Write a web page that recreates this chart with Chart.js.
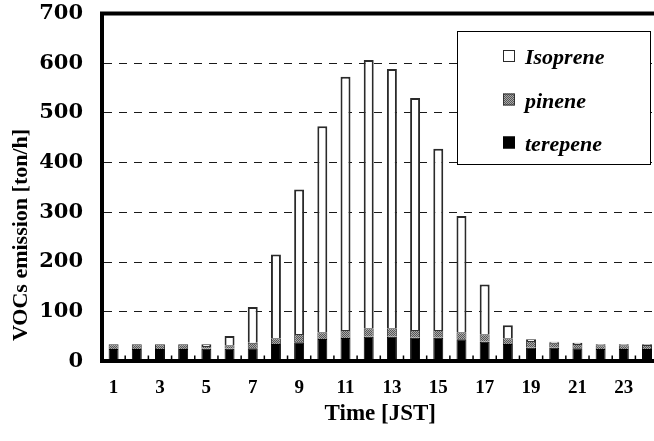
<!DOCTYPE html>
<html>
<head>
<meta charset="utf-8">
<script src="https://cdn.jsdelivr.net/npm/chart.js@4.4.1/dist/chart.umd.min.js"></script>
<style>
    html, body { margin: 0; padding: 0; background: #ffffff; overflow: hidden; }
    #wrap { width: 654px; height: 441px; overflow: hidden; }
    canvas { display: block; }
</style>
</head>
<body>
<div id="wrap"><canvas id="vocChart" width="662" height="441"></canvas></div>
<script>
// Hourly VOC emission by species (ton/h)
const hours = ['1', '2', '3', '4', '5', '6', '7', '8', '9', '10', '11', '12',
    '13', '14', '15', '16', '17', '18', '19', '20', '21', '22', '23', '24'];
const terepene = [25, 25, 25, 25, 25.5, 25.5, 26.5, 35, 38.5, 45, 47, 49.5,
    49.5, 47.5, 47.5, 44.5, 39.5, 35, 27.5, 27.5, 26.5, 25, 25, 25];
const pinene = [9.5, 9.5, 9.5, 9.5, 5.5, 7, 11, 11.5, 16.5, 13.5, 16, 17,
    17, 15.5, 15.5, 14, 15, 11.5, 13.5, 10, 8.5, 7.5, 7.5, 8];
const isoprene = [0, 0, 0, 0, 3.5, 18.5, 72, 168.5, 291, 415, 510, 540,
    522, 467, 365, 234, 100.5, 26.5, 3.5, 2, 2.5, 2, 2, 1.5];
const yTicks = [0, 100, 200, 300, 400, 500, 600, 700];

const serif = "'Liberation Serif', 'Times New Roman', serif";

// Grey dotted fill like the old spreadsheet pattern
function makePattern() {
    const c = document.createElement('canvas');
    c.width = 2; c.height = 2;
    const g = c.getContext('2d');
    g.fillStyle = '#aaaaaa';
    g.fillRect(0, 0, 2, 2);
    g.fillStyle = '#555555';
    g.fillRect(0, 0, 1, 1);
    g.fillRect(1, 1, 1, 1);
    return g.createPattern(c, 'repeat');
}
const pinenePattern = makePattern();

// Frame, inner tick marks, y title and the boxed legend
const framePlugin = {
    id: 'frame',
    afterDraw(chart) {
        const { ctx, chartArea } = chart;
        const x = chart.scales.x;
        ctx.save();

        // top border
        ctx.strokeStyle = '#000';
        ctx.lineWidth = 4;
        ctx.beginPath();
        ctx.moveTo(chartArea.left - 2, chartArea.top);
        ctx.lineTo(chartArea.right, chartArea.top);
        ctx.stroke();

        // small ticks between categories
        const step = (x.right - x.left) / hours.length;
        ctx.lineWidth = 1.5;
        ctx.beginPath();
        for (let i = 1; i < hours.length; i++) {
            const px = x.left + i * step;
            ctx.moveTo(px, chartArea.bottom);
            ctx.lineTo(px, chartArea.bottom - 6);
        }
        ctx.stroke();

        // y axis title
        ctx.fillStyle = '#000';
        ctx.font = 'bold 22px ' + serif;
        ctx.textAlign = 'center';
        ctx.textBaseline = 'middle';
        ctx.translate(21, 235);
        ctx.rotate(-Math.PI / 2);
        ctx.fillText('VOCs emission [ton/h]', 0, 0);
        ctx.setTransform(1, 0, 0, 1, 0, 0);

        // legend box
        ctx.fillStyle = '#fff';
        ctx.fillRect(457.5, 31.5, 193, 133);
        ctx.lineWidth = 1;
        ctx.strokeStyle = '#000';
        ctx.strokeRect(457.5, 31.5, 193, 133);

        const items = chart.data.datasets.slice().reverse();
        const baselines = [64, 107.5, 150.5];
        ctx.font = 'italic bold 22px ' + serif;
        ctx.textAlign = 'left';
        ctx.textBaseline = 'alphabetic';
        items.forEach((ds, i) => {
            const by = baselines[i];
            ctx.fillStyle = ds.backgroundColor;
            ctx.fillRect(503, by - 14, 12, 12);
            ctx.strokeStyle = ds.borderColor;
            ctx.lineWidth = 1;
            ctx.strokeRect(503.5, by - 13.5, 11, 11);
            ctx.fillStyle = '#000';
            ctx.fillText(ds.label, 525, by);
        });
        ctx.restore();
    }
};

function initializeChart() {
    const ctx = document.getElementById('vocChart');

    new Chart(ctx, {
        type: 'bar',
        data: {
            labels: hours,
            datasets: [
                {
                    label: 'terepene',
                    data: terepene,
                    backgroundColor: '#000000',
                    borderColor: '#000000',
                    borderWidth: 1
                },
                {
                    label: 'pinene',
                    data: pinene,
                    backgroundColor: pinenePattern,
                    borderColor: '#333333',
                    borderWidth: 1
                },
                {
                    label: 'Isoprene',
                    data: isoprene,
                    backgroundColor: '#ffffff',
                    borderColor: '#2a2a2a',
                    borderWidth: 2
                }
            ]
        },
        options: {
            responsive: false,
            animation: false,
            devicePixelRatio: 1,
            barPercentage: 0.43,
            categoryPercentage: 1,
            layout: {
                padding: 0
            },
            plugins: {
                legend: { display: false },
                tooltip: { enabled: false }
            },
            scales: {
                x: {
                    stacked: true,
                    afterFit(scale) { scale.height = 79.6; },
                    grid: { display: false, drawTicks: false },
                    border: { display: true, color: '#000', width: 4 },
                    ticks: {
                        autoSkip: false,
                        maxRotation: 0,
                        padding: 15,
                        color: '#000',
                        font: { family: serif, size: 19, weight: 'bold' },
                        callback(value, index) {
                            return index % 2 === 0 ? hours[index] : '';
                        }
                    },
                    title: {
                        display: true,
                        text: 'Time [JST]',
                        color: '#000',
                        font: { family: serif, size: 23, weight: 'bold' },
                        padding: { top: 0, bottom: 13 }
                    }
                },
                y: {
                    stacked: true,
                    min: 0,
                    max: 700,
                    afterFit(scale) {
                        scale.width = 102;
                        scale.paddingTop = 13.6;
                        scale.paddingBottom = 0;
                    },
                    afterBuildTicks(scale) {
                        scale.ticks = yTicks.map(v => ({ value: v }));
                    },
                    grid: {
                        drawTicks: false,
                        lineWidth: 1,
                        color: c => (c.tick && (c.tick.value === 0 || c.tick.value === 700))
                            ? 'rgba(0,0,0,0)' : '#1a1a1a'
                    },
                    border: { display: true, color: '#000', width: 4, dash: [8, 7] },
                    ticks: {
                        padding: 19,
                        color: '#000',
                        font: { family: "'DejaVu Serif', serif", size: 21, weight: 'bold' }
                    }
                }
            }
        },
        plugins: [framePlugin]
    });
}

initializeChart();
</script>
</body>
</html>
